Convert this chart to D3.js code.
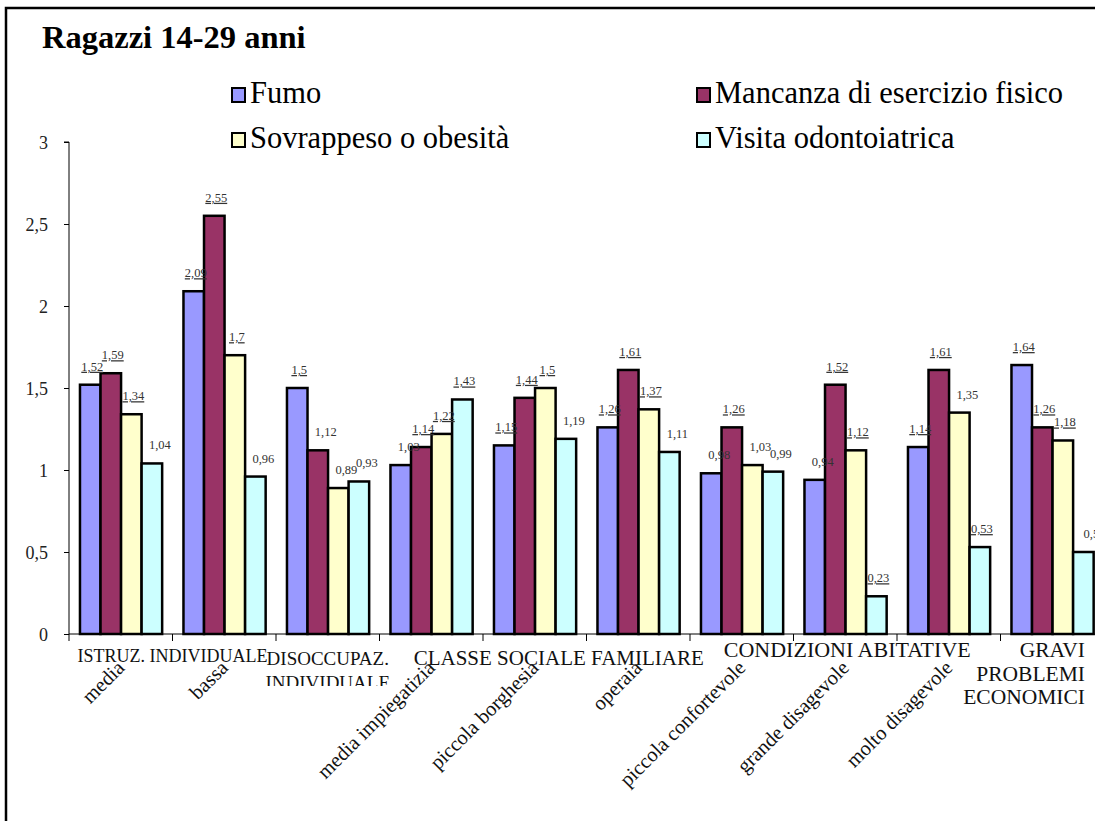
<!DOCTYPE html>
<html>
<head>
<meta charset="utf-8">
<script src="https://cdn.jsdelivr.net/npm/d3@7"></script>
<style>
  html, body { margin: 0; padding: 0; background: #fff; }
</style>
</head>
<body>
<svg id="chart" width="1095" height="821" font-family="Liberation Serif, serif"></svg>
<script>
// ---- data ----
const title = "Ragazzi 14-29 anni";
const seriesNames = ["Fumo", "Mancanza di esercizio fisico", "Sovrappeso o obesità", "Visita odontoiatrica"];
const subLabels = ["media", "bassa", "", "media impiegatizia", "piccola borghesia", "operaia",
                   "piccola confortevole", "grande disagevole", "molto disagevole", ""];
const fumo       = [1.52, 2.09, 1.50, 1.03, 1.15, 1.26, 0.98, 0.94, 1.14, 1.64];
const mancanza   = [1.59, 2.55, 1.12, 1.14, 1.44, 1.61, 1.26, 1.52, 1.61, 1.26];
const sovrappeso = [1.34, 1.70, 0.89, 1.22, 1.50, 1.37, 1.03, 1.12, 1.35, 1.18];
const visita     = [1.04, 0.96, 0.93, 1.43, 1.19, 1.11, 0.99, 0.23, 0.53, 0.50];
const yTicks = [0, 0.5, 1, 1.5, 2, 2.5, 3];
// groups of the upper category level
const groupLabels = [
  {from: 0, to: 1, lines: ["ISTRUZ. INDIVIDUALE"]},
  {from: 2, to: 2, lines: ["DISOCCUPAZ.", "INDIVIDUALE"]},
  {from: 3, to: 5, lines: ["CLASSE SOCIALE FAMILIARE"]},
  {from: 6, to: 8, lines: ["CONDIZIONI ABITATIVE"]},
  {from: 9, to: 9, lines: ["GRAVI", "PROBLEMI", "ECONOMICI"]}
];
// label style: underlined value labels (1) or plain (0)
const underlineFumo       = [1, 1, 1, 0, 1, 1, 0, 0, 1, 1];
const underlineMancanza   = [1, 1, 0, 1, 1, 1, 1, 1, 1, 1];
const underlineSovrappeso = [1, 1, 0, 1, 1, 1, 0, 1, 0, 1];
const underlineVisita     = [0, 0, 0, 1, 0, 0, 0, 1, 1, 0];

// ---- styles ----
const FONT = "Liberation Serif, serif";
const colors = ["#9999FF", "#993366", "#FFFFCC", "#CCFFFF"];
const seriesValues = [fumo, mancanza, sovrappeso, visita];
const seriesUnder = [underlineFumo, underlineMancanza, underlineSovrappeso, underlineVisita];
const groupStyle = [
  {size: 18, anchor: "middle", dx: 0, y: 662},
  {size: 19, anchor: "middle", dx: 0, y: 665, clip: true},
  {size: 21, anchor: "middle", dx: 24, y: 665},
  {size: 22, anchor: "middle", dx: 2, y: 657},
  {size: 21.5, anchor: "end", x: 1085, y: 657}
];

const svg = d3.select("#chart");
const plotLeft = 69, plotBottom = 634, plotTop = 142;
const groupW = 103.5;
const idx = d3.range(fumo.length);

const x0 = d3.scaleBand().domain(idx).range([plotLeft, plotLeft + groupW * idx.length]).padding(0);
const x1 = d3.scaleBand().domain(d3.range(seriesNames.length))
  .range([x0.bandwidth() * 0.106, x0.bandwidth() * 0.9]).padding(0);
const y = d3.scaleLinear().domain([0, 3]).range([plotBottom, plotTop]);
const fmt = v => String(v).replace(".", ",");

// outer frame
svg.append("rect").attr("x", 6).attr("y", 8).attr("width", 1200).attr("height", 1000)
  .attr("fill", "none").attr("stroke", "#000").attr("stroke-width", 2.5);

// title
svg.append("text").attr("x", 42).attr("y", 48).attr("font-family", FONT).attr("font-size", 32.5)
  .attr("font-weight", "bold").attr("fill", "#000").text(title);

// legend
const legendPos = [[232, 103], [697, 103], [232, 148], [697, 148]];
seriesNames.forEach((name, i) => {
  const [lx, ly] = legendPos[i];
  svg.append("rect").attr("x", lx).attr("y", ly - 15).attr("width", 13).attr("height", 14)
    .attr("fill", colors[i]).attr("stroke", "#000").attr("stroke-width", 2);
  svg.append("text").attr("x", lx + 18).attr("y", ly).attr("font-family", FONT)
    .attr("font-size", 30.5).attr("fill", "#000").text(name);
});

// y axis
const yAxis = d3.axisLeft(y).tickValues(yTicks).tickSize(5).tickFormat(fmt);
const ya = svg.append("g").attr("transform", `translate(${plotLeft},0)`).call(yAxis)
  .attr("font-family", FONT);
ya.select(".domain").attr("stroke", "#000").attr("d", `M-5,${plotTop}H0V${plotBottom}`);
ya.selectAll(".tick line").attr("stroke", "#000");
ya.selectAll(".tick text").attr("font-family", FONT).attr("font-size", 18)
  .attr("fill", "#222").attr("x", -21).attr("dy", "0.35em");

// bars
const groups = svg.append("g").selectAll("g").data(idx).join("g")
  .attr("transform", d => `translate(${x0(d)},0)`);
groups.selectAll("rect").data(d => seriesValues.map((s, j) => ({j, v: s[d]}))).join("rect")
  .attr("x", d => x1(d.j)).attr("width", x1.bandwidth())
  .attr("y", d => y(d.v)).attr("height", d => plotBottom - y(d.v))
  .attr("fill", d => colors[d.j]).attr("stroke", "#000").attr("stroke-width", 2.5);

// x axis line & ticks
svg.append("line").attr("x1", plotLeft).attr("x2", 1100).attr("y1", plotBottom).attr("y2", plotBottom)
  .attr("stroke", "#000").attr("stroke-width", 1);
svg.append("g").selectAll("line").data(d3.range(idx.length + 1)).join("line")
  .attr("x1", d => plotLeft + groupW * d).attr("x2", d => plotLeft + groupW * d)
  .attr("y1", plotBottom).attr("y2", plotBottom + 7).attr("stroke", "#000");

// value labels
groups.selectAll("text.val").data(d => seriesValues.map((s, j) => ({j, v: s[d], u: seriesUnder[j][d]}))).join("text")
  .attr("class", "val")
  .attr("x", d => x1(d.j) + x1.bandwidth() / 2 + (d.u ? 2 : 8))
  .attr("y", d => y(d.v) - 14)
  .attr("text-anchor", "middle").attr("font-family", FONT).attr("font-size", 12.5).attr("fill", "#333")
  .attr("text-decoration", d => d.u ? "underline" : null)
  .text(d => fmt(d.v));

// rotated sub-category labels
svg.append("g").selectAll("text").data(idx.filter(i => subLabels[i])).join("text")
  .attr("transform", i => `translate(${x0(i) + x0.bandwidth() / 2 + 5},669) rotate(-45)`)
  .attr("text-anchor", "end").attr("font-family", FONT).attr("font-size", 20.5).attr("fill", "#111")
  .text(i => subLabels[i]);

// upper category labels
svg.append("clipPath").attr("id", "clipLabels").append("rect")
  .attr("x", 0).attr("y", 0).attr("width", 1095).attr("height", 686);
const gl = svg.append("g").attr("font-family", FONT).attr("fill", "#111");
groupLabels.forEach((g, gi) => {
  const st = groupStyle[gi];
  const cx = (x0(g.from) + x0(g.to) + x0.bandwidth()) / 2;
  const tx = st.x !== undefined ? st.x : cx + st.dx;
  const t = gl.append("text").attr("text-anchor", st.anchor).attr("font-size", st.size)
    .attr("clip-path", st.clip ? "url(#clipLabels)" : null);
  g.lines.forEach((ln, k) => {
    t.append("tspan").attr("x", tx).attr("y", st.y + k * 23.5).text(ln);
  });
});
</script>
</body>
</html>
